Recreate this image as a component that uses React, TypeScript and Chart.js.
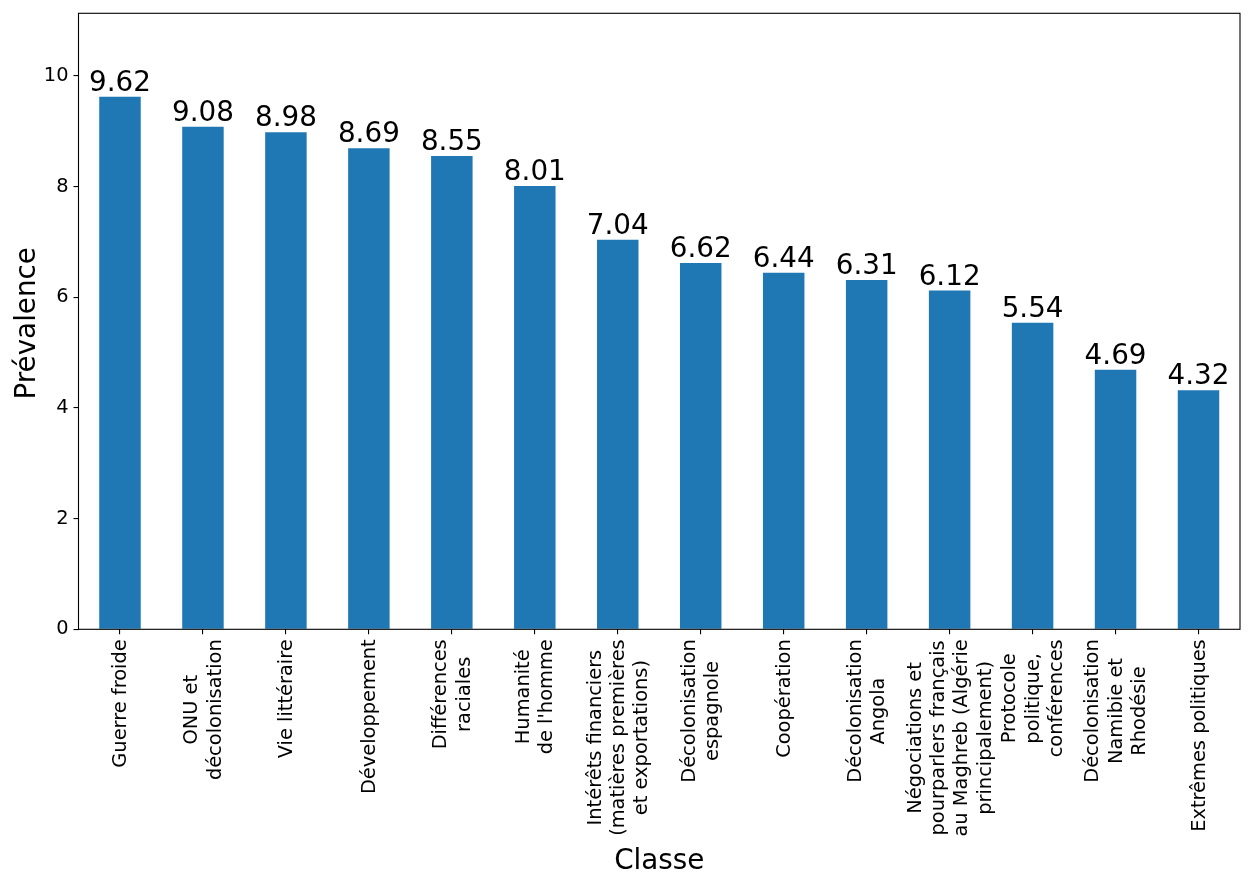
import React, { useEffect, useRef } from "react";
import { Chart, registerables } from "chart.js";

Chart.register(...registerables);

const categories: string[][] = [
  ["Guerre froide"],
  ["ONU et", "décolonisation"],
  ["Vie littéraire"],
  ["Développement"],
  ["Différences", "raciales"],
  ["Humanité", "de l'homme"],
  ["Intérêts financiers", "(matières premières", "et exportations)"],
  ["Décolonisation", "espagnole"],
  ["Coopération"],
  ["Décolonisation", "Angola"],
  ["Négociations et", "pourparlers français", "au Maghreb (Algérie", "principalement)"],
  ["Protocole", "politique,", "conférences"],
  ["Décolonisation", "Namibie et", "Rhodésie"],
  ["Extrêmes politiques"],
];

const prevalence: number[] = [9.62, 9.08, 8.98, 8.69, 8.55, 8.01, 7.04, 6.62, 6.44, 6.31, 6.12, 5.54, 4.69, 4.32];

const yTickStep = 2;
const yMax = 11.13;
const xTitle = "Classe";
const yTitle = "Prévalence";

const FONT = "'DejaVu Sans', sans-serif";
const TICK_PX = 19.4;
const BIG_PX = 27.8;

const overlay = {
  id: "overlay",
  afterDatasetsDraw(chart: any) {
    const ctx = chart.ctx as CanvasRenderingContext2D;
    const area = chart.chartArea;
    const xs = chart.scales.x;
    ctx.save();
    // frame
    ctx.strokeStyle = "#000";
    ctx.lineWidth = 1.1;
    ctx.strokeRect(area.left, area.top, area.right - area.left, area.bottom - area.top);

    // bar value labels
    const meta = chart.getDatasetMeta(0);
    ctx.fillStyle = "#000";
    ctx.font = `${BIG_PX}px ${FONT}`;
    ctx.textAlign = "center";
    ctx.textBaseline = "alphabetic";
    meta.data.forEach((bar: any, i: number) => {
      const v = chart.data.datasets[0].data[i] as number;
      ctx.fillText(v.toFixed(2), bar.x, bar.y - 6);
    });

    // x tick labels (rotated, centered multi-line)
    ctx.font = `${TICK_PX}px ${FONT}`;
    const lh = TICK_PX * 1.2;
    const topY = area.bottom + 10;
    (chart.data.labels as string[][]).forEach((lines, i) => {
      const px = xs.getPixelForValue(i);
      let w = 0;
      lines.forEach((l) => (w = Math.max(w, ctx.measureText(l).width)));
      ctx.save();
      ctx.translate(px, topY);
      ctx.rotate(-Math.PI / 2);
      ctx.textAlign = "center";
      ctx.textBaseline = "middle";
      const n = lines.length;
      lines.forEach((l, j) => {
        ctx.fillText(l, -w / 2, (j - (n - 1) / 2) * lh + 1);
      });
      ctx.restore();
    });

    // axis titles
    ctx.font = `${BIG_PX}px ${FONT}`;
    ctx.textAlign = "center";
    ctx.textBaseline = "alphabetic";
    ctx.fillText(xTitle, (area.left + area.right) / 2, 869);
    ctx.save();
    ctx.translate(35, (area.top + area.bottom) / 2 + 2);
    ctx.rotate(-Math.PI / 2);
    ctx.fillText(yTitle, 0, 0);
    ctx.restore();
    ctx.restore();
  },
};

export default function App() {
  const ref = useRef<HTMLCanvasElement>(null);
  useEffect(() => {
    document.body.style.margin = "0";
    const chart = new Chart(ref.current as HTMLCanvasElement, {
      type: "bar",
      data: {
        labels: categories as any,
        datasets: [
          {
            data: prevalence,
            backgroundColor: "#1f77b4",
            borderWidth: 0,
            barPercentage: 0.5,
            categoryPercentage: 1.0,
          },
        ],
      },
      options: {
        animation: false,
        responsive: true,
        maintainAspectRatio: false,
        layout: { padding: { top: 13.3, right: 13, left: 0, bottom: 0 } },
        plugins: { legend: { display: false }, tooltip: { enabled: false } },
        scales: {
          x: {
            type: "category",
            offset: true,
            border: { display: false },
            grid: { offset: false, drawOnChartArea: false, drawTicks: true, tickLength: 5, color: "#000", lineWidth: 1.1 },
            ticks: { display: false },
            afterFit: (s: any) => {
              s.height = 885 - 629.3 - 0;
              s.paddingLeft = 0;
              s.paddingRight = 0;
            },
          },
          y: {
            min: 0,
            max: yMax,
            border: { display: false },
            grid: { drawOnChartArea: false, drawTicks: true, tickLength: 5, color: "#000", lineWidth: 1.1 },
            ticks: {
              stepSize: yTickStep,
              includeBounds: false,
              color: "#000",
              padding: 5,
              font: { family: FONT, size: TICK_PX },
            },
            afterFit: (s: any) => {
              s.width = 78.5;
              s.paddingTop = 0;
              s.paddingBottom = 0;
            },
          },
        },
      },
      plugins: [overlay],
    });
    return () => chart.destroy();
  }, []);
  return (
    <div style={{ position: "absolute", left: 0, top: 0, width: 1253, height: 885 }}>
      <canvas ref={ref} />
    </div>
  );
}
